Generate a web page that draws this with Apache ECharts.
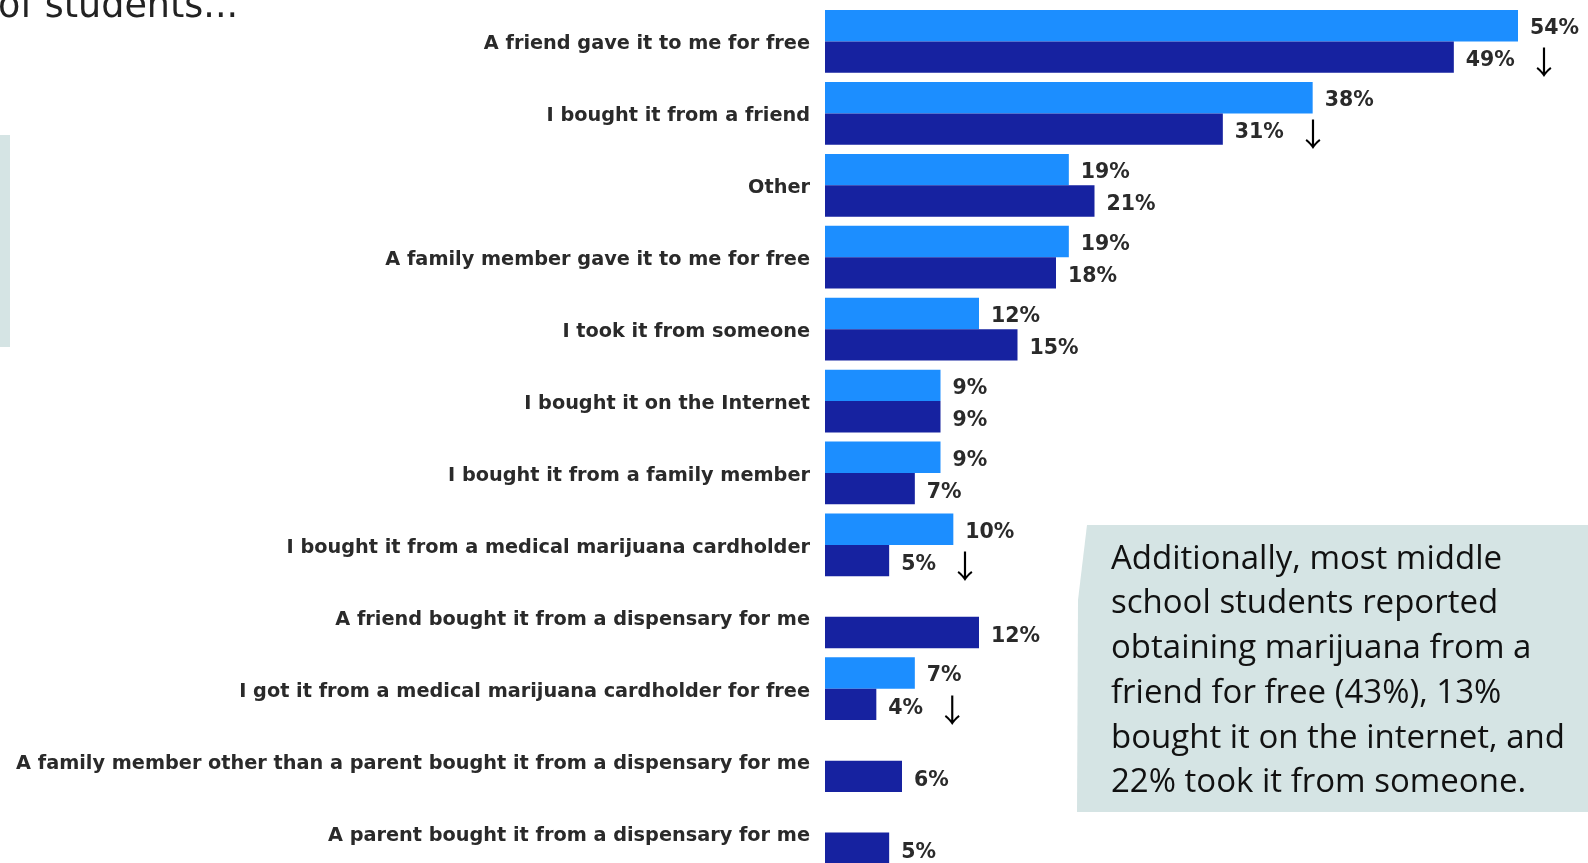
<!DOCTYPE html>
<html>
<head>
<meta charset="utf-8">
<script src="https://cdn.jsdelivr.net/npm/echarts@6/dist/echarts.min.js"></script>
<style>
html,body{margin:0;padding:0;background:#fff;}
#c{width:1588px;height:863px;}
</style>
</head>
<body>
<div id="c"></div>
<script>
const categories = [
  "A friend gave it to me for free",
  "I bought it from a friend",
  "Other",
  "A family member gave it to me for free",
  "I took it from someone",
  "I bought it on the Internet",
  "I bought it from a family member",
  "I bought it from a medical marijuana cardholder",
  "A friend bought it from a dispensary for me",
  "I got it from a medical marijuana cardholder for free",
  "A family member other than a parent bought it from a dispensary for me",
  "A parent bought it from a dispensary for me"
];
const earlierValues = [54, 38, 19, 19, 12, 9, 9, 10, null, 7, null, null];
const laterValues   = [49, 31, 21, 18, 15, 9, 7, 5, 12, 4, 6, 5];
const decreaseFlags = [true, true, false, false, false, false, false, true, false, true, false, false];
const calloutLines = [
  "Additionally, most middle",
  "school students reported",
  "obtaining marijuana from a",
  "friend for free (43%), 13%",
  "bought it on the internet, and",
  "22% took it from someone."
];

const chart = echarts.init(document.getElementById('c'));
const labelFont = '"DejaVu Sans", sans-serif';

const lightColor = '#1c8eff';
const darkColor = '#1622a0';

const valueRich = {
  v: {fontFamily: labelFont, fontWeight: 'bold', fontSize: 20.5, color: '#2a2a2a'},
  a: {fontFamily: '"Noto Sans CJK SC", sans-serif', fontWeight: 'normal', fontSize: 32, color: '#000', padding: [2,0,0,13]}
};

chart.setOption({
  animation: false,
  graphic: [
    {type: 'rect', shape: {x: 0, y: 135, width: 10, height: 212}, style: {fill: '#d5e4e4'}, silent: true},
    {type: 'polygon', shape: {points: [[1087,525],[1588,525],[1588,812],[1077,812],[1078,600]]}, style: {fill: '#d5e4e4'}, silent: true},
    {type: 'text', left: 1111, top: 537, style: {
      text: calloutLines.join('\n'), fontFamily: '"Open Sans", sans-serif', fontSize: 33, lineHeight: 44.7, fill: '#111'
    }, silent: true},
    {type: 'text', style: {
      x: -2, y: 7.5, verticalAlign: 'middle', text: 'of students...', fontFamily: '"DejaVu Sans", sans-serif', fontSize: 36.5, fill: '#222'
    }, silent: true}
  ],
  grid: {left: 825, top: 5.5, width: 770, height: 863, containLabel: false, outerBoundsMode: 'none'},
  xAxis: {type: 'value', min: 0, max: 60, show: false},
  yAxis: {
    type: 'category', data: categories, inverse: true,
    axisLine: {show: false}, axisTick: {show: false}, splitLine: {show: false},
    axisLabel: {
      margin: 15, color: '#2a2a2a',
      formatter: v => '{l|' + v + '}',
      rich: {l: {fontFamily: labelFont, fontWeight: 'bold', fontSize: 19.3, color: '#2a2a2a', padding: [6,0,0,0]}}
    }
  },
  series: [
    {
      name: 'Earlier', type: 'bar', data: earlierValues, barGap: 0, barCategoryGap: '12.7%',
      itemStyle: {color: lightColor},
      label: {show: true, position: 'right', distance: 12, offset: [0, 3], formatter: p => '{v|' + p.value + '%}', rich: valueRich}
    },
    {
      name: 'Later', type: 'bar', data: laterValues, barGap: 0, barCategoryGap: '12.7%',
      itemStyle: {color: darkColor},
      label: {show: true, position: 'right', distance: 12, offset: [0, 4],
        formatter: p => '{v|' + p.value + '%}' + (decreaseFlags[p.dataIndex] ? '{a|↓}' : ''), rich: valueRich}
    }
  ]
});
</script>
</body>
</html>
